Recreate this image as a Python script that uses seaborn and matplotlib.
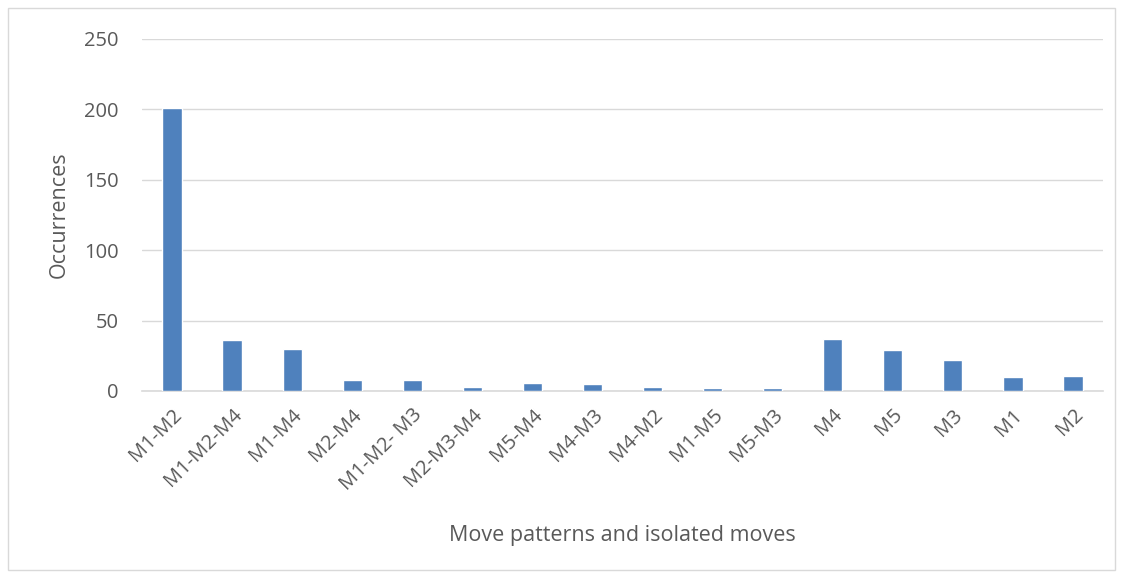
import pandas as pd
import matplotlib.pyplot as plt
import seaborn as sns
from matplotlib.patches import Rectangle

sns.set_style('white')
plt.rcParams['font.family'] = ['Open Sans', 'DejaVu Sans']

patterns = ['M1-M2', 'M1-M2-M4', 'M1-M4', 'M2-M4', 'M1-M2- M3', 'M2-M3-M4',
            'M5-M4', 'M4-M3', 'M4-M2', 'M1-M5', 'M5-M3',
            'M4', 'M5', 'M3', 'M1', 'M2']
occurrences = [201, 36, 30, 8, 8, 3, 6, 5, 3, 2, 2, 37, 29, 22, 10, 11]

df = pd.DataFrame({'pattern': patterns, 'count': occurrences})

fig = plt.figure(figsize=(11.23, 5.78), dpi=100)
ax = fig.add_axes([142 / 1123, 1 - 391 / 578, (1103 - 142) / 1123, (391 - 39) / 578])

sns.barplot(data=df, x='pattern', y='count', color='#4f81bd', width=0.32,
            saturation=1, ax=ax, zorder=3)

txt = '#595959'
ax.set_ylim(0, 250)
ax.set_yticks(range(0, 251, 50))
ax.set_xlim(-0.5, len(patterns) - 0.5)
ax.grid(axis='y', color='#d9d9d9', linewidth=1, zorder=0)
ax.set_axisbelow(True)
for s in ['top', 'right', 'left']:
    ax.spines[s].set_visible(False)
ax.spines['bottom'].set_color('#d9d9d9')
ax.spines['bottom'].set_linewidth(1.2)
ax.tick_params(axis='both', length=0, labelsize=14.5, colors=txt, pad=10)
ax.tick_params(axis='y', pad=17)
plt.setp(ax.get_xticklabels(), rotation=45, ha='right', rotation_mode='anchor')

ax.set_xlabel('Move patterns and isolated moves', fontsize=15.5, color=txt, labelpad=22)
ax.set_ylabel('Occurrences', fontsize=15.5, color=txt, labelpad=10)

fig.patches.append(Rectangle((8 / 1123, 8 / 578), 1107 / 1123, 562 / 578,
                             transform=fig.transFigure, fill=False,
                             edgecolor='#d9d9d9', linewidth=1))

fig.savefig('out.png', dpi=100)
